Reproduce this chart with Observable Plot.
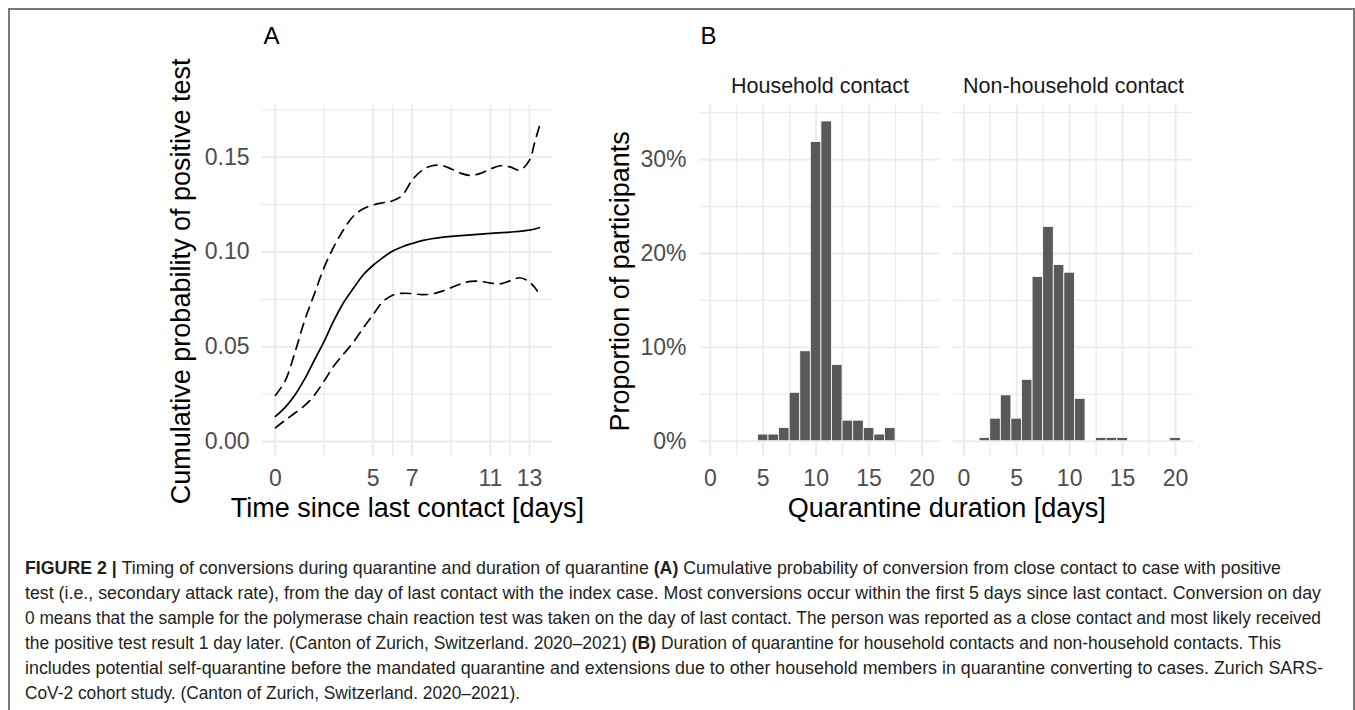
<!DOCTYPE html>
<html><head><meta charset="utf-8">
<script src="https://cdn.jsdelivr.net/npm/d3@7"></script>
<script src="https://cdn.jsdelivr.net/npm/@observablehq/plot@0.6"></script>
<style>
body{margin:0;background:#fff;}
#page{position:relative;width:1355px;height:710px;overflow:hidden;font-family:"Liberation Sans",Arial,sans-serif;background:#fff;}
#frame{position:absolute;left:8px;top:8px;width:1347px;height:720px;border:2px solid #7a7a7a;border-bottom:none;box-sizing:border-box;}
#panelA{position:absolute;left:150px;top:10px;}
#panelB{position:absolute;left:590px;top:10px;}
#caption{position:absolute;left:0;top:540px;}
</style></head>
<body><div id="page"><div id="frame"></div><div id="panelA"></div><div id="panelB"></div><svg id="caption" width="1355" height="170"></svg></div>
<script>
// ---------- Panel A data: cumulative probability of positive test ----------
const estDays  = [0,0.5,1,1.5,2,2.5,3,3.5,4,4.5,5,5.5,6,6.5,7,7.5,8,8.5,9,10,11,12,13,13.5];
const estProb  = [0.0132,0.018,0.0245,0.033,0.043,0.053,0.064,0.0735,0.081,0.088,0.093,0.097,0.1005,0.1028,0.1045,0.106,0.107,0.1077,0.1082,0.109,0.1098,0.1105,0.1115,0.1128];
const upperDays = [0,0.5,1,1.5,2,2.5,3,3.5,4,4.5,5,5.5,6,6.5,7,7.5,8,8.5,9,9.5,10,10.5,11,11.5,12,12.5,13,13.25,13.5];
const upperProb = [0.0243,0.032,0.047,0.064,0.078,0.092,0.103,0.112,0.119,0.1228,0.1248,0.126,0.127,0.130,0.138,0.143,0.1455,0.1457,0.1438,0.1415,0.1404,0.1415,0.1438,0.1455,0.1449,0.1432,0.1485,0.1572,0.1663];
const lowerDays = [0,0.5,1,1.5,2,2.5,3,3.5,4,4.5,5,5.5,6,6.5,7,7.5,8,8.5,9,9.5,10,10.5,11,11.5,12,12.5,13,13.4];
const lowerProb = [0.0072,0.0112,0.015,0.019,0.0245,0.032,0.040,0.0463,0.0525,0.060,0.067,0.0738,0.0772,0.0782,0.078,0.0775,0.0778,0.0792,0.0812,0.0832,0.0845,0.0845,0.0836,0.0832,0.0848,0.0864,0.0841,0.0794];
const aTicksX = [0,5,7,11,13];
const aMinorX = [2.5,6,9,12];
const aTicksY = [0,0.05,0.10,0.15];
const aMinorY = [0.025,0.075,0.125,0.175];

// ---------- Panel B data: quarantine duration histograms (% of participants) ----------
const facets = ["Household contact","Non-household contact"];
const householdDays = [5,6,7,8,9,10,11,12,13,14,15,16,17];
const householdPct  = [0.71,0.71,1.41,5.16,9.58,31.87,34.06,8.13,2.19,2.19,1.41,0.71,1.41];
const nonHouseholdDays = [2,3,4,5,6,7,8,9,10,11,13,14,15,20];
const nonHouseholdPct  = [0.35,2.4,4.88,2.4,6.54,17.49,22.83,18.76,17.95,4.52,0.35,0.35,0.35,0.35];
const bTicksX = [0,5,10,15,20];
const bMinorX = [2.5,7.5,12.5,17.5];
const bTicksY = [0,10,20,30];
const bMinorY = [5,15,25,35];

// ---------- Caption ----------
const captionLines = [
  [["FIGURE 2 | ",1],["Timing of conversions during quarantine and duration of quarantine ",0],["(A)",1],[" Cumulative probability of conversion from close contact to case with positive",0]],
  [["test (i.e., secondary attack rate), from the day of last contact with the index case. Most conversions occur within the first 5 days since last contact. Conversion on day",0]],
  [["0 means that the sample for the polymerase chain reaction test was taken on the day of last contact. The person was reported as a close contact and most likely received",0]],
  [["the positive test result 1 day later. (Canton of Zurich, Switzerland. 2020\u20132021) ",0],["(B)",1],[" Duration of quarantine for household contacts and non-household contacts. This",0]],
  [["includes potential self-quarantine before the mandated quarantine and extensions due to other household members in quarantine converting to cases. Zurich SARS-",0]],
  [["CoV-2 cohort study. (Canton of Zurich, Switzerland. 2020\u20132021).",0]]
];

const FONT = "'Liberation Sans', Arial, Helvetica, sans-serif";
const GRID = "#ebebeb";
const zip = (xs, ys) => xs.map((x, i) => ({x, y: ys[i]}));

// ---------- Panel A ----------
const plotA = Plot.plot({
  width: 410, height: 530,
  marginLeft: 111.7, marginRight: 8, marginTop: 95, marginBottom: 83.3,
  style: {fontFamily: FONT, fontSize: "23px", background: "transparent", overflow: "visible"},
  x: {domain: [-0.675, 14.175]},
  y: {domain: [-0.0083, 0.1773]},
  marks: [
    Plot.ruleX(aMinorX, {stroke: GRID, strokeWidth: 1.3}),
    Plot.ruleY(aMinorY, {stroke: GRID, strokeWidth: 1.3}),
    Plot.ruleX(aTicksX, {stroke: GRID, strokeWidth: 1.9}),
    Plot.ruleY(aTicksY, {stroke: GRID, strokeWidth: 1.9}),
    Plot.axisX({ticks: aTicksX, tickFormat: d => String(d), tickSize: 0, tickPadding: 12.8, label: null, color: "#4d4d4d"}),
    Plot.axisY({ticks: aTicksY, tickFormat: d3.format(".2f"), tickSize: 0, tickPadding: 12.7, label: null, color: "#4d4d4d"}),
    Plot.line(zip(upperDays, upperProb), {x: "x", y: "y", stroke: "#000", strokeWidth: 1.7, strokeDasharray: "10,7", curve: "catmull-rom"}),
    Plot.line(zip(lowerDays, lowerProb), {x: "x", y: "y", stroke: "#000", strokeWidth: 1.7, strokeDasharray: "10,7", curve: "catmull-rom"}),
    Plot.line(zip(estDays, estProb), {x: "x", y: "y", stroke: "#000", strokeWidth: 1.7, curve: "catmull-rom"}),
    Plot.text(["Cumulative probability of positive test"], {frameAnchor: "left", rotate: -90, dx: -80.7, fontSize: 27, fill: "#000", lineAnchor: "middle", textAnchor: "middle"}),
    Plot.text(["Time since last contact [days]"], {frameAnchor: "bottom", dy: 50.7, fontSize: 27, fill: "#000", lineAnchor: "middle"}),
    Plot.text(["A"], {frameAnchor: "top-left", dx: 9.3, dy: -62, fontSize: 24, fill: "#000", lineAnchor: "bottom", textAnchor: "middle"})
  ]
});
document.getElementById("panelA").appendChild(plotA);

// ---------- Panel B ----------
const bars = [
  ...householdDays.map((d, i) => ({group: facets[0], day: d, pct: householdPct[i]})),
  ...nonHouseholdDays.map((d, i) => ({group: facets[1], day: d, pct: nonHouseholdPct[i]}))
];
const plotB = Plot.plot({
  width: 615, height: 530,
  marginLeft: 109.5, marginRight: 12, marginTop: 95, marginBottom: 83.3,
  style: {fontFamily: FONT, fontSize: "23px", background: "transparent", overflow: "visible"},
  fx: {domain: facets, paddingInner: 0.0533, paddingOuter: 0, round: false, axis: null, label: null},
  x: {domain: [-0.97, 21.7]},
  y: {domain: [-1.7, 35.76]},
  marks: [
    Plot.ruleX(bMinorX, {stroke: GRID, strokeWidth: 1.3}),
    Plot.ruleY(bMinorY, {stroke: GRID, strokeWidth: 1.3}),
    Plot.ruleX(bTicksX, {stroke: GRID, strokeWidth: 1.9}),
    Plot.ruleY(bTicksY, {stroke: GRID, strokeWidth: 1.9}),
    Plot.rect(bars, {fx: "group", x1: d => d.day - 0.5, x2: d => d.day + 0.5, y1: d => 0, y2: "pct", fill: "#595959", stroke: "#fff", strokeWidth: 0.8}),
    Plot.axisX({ticks: bTicksX, tickFormat: d => String(d), tickSize: 0, tickPadding: 12.8, label: null, color: "#4d4d4d"}),
    Plot.axisY({ticks: bTicksY, tickFormat: d => d + "%", tickSize: 0, tickPadding: 13.5, label: null, color: "#4d4d4d"}),
    Plot.text(facets, {fx: d => d, text: d => d, frameAnchor: "top", dy: -19.6, fontSize: 21.5, fill: "#1a1a1a", lineAnchor: "middle"}),
    Plot.text([facets[0]], {fx: d => d, text: () => "Proportion of participants", frameAnchor: "left", rotate: -90, dx: -79.5, fontSize: 27, fill: "#000", lineAnchor: "middle", textAnchor: "middle"}),
    Plot.text([facets[0]], {fx: d => d, text: () => "Quarantine duration [days]", frameAnchor: "bottom", dx: 126.75, dy: 50.7, fontSize: 27, fill: "#000", lineAnchor: "middle"}),
    Plot.text([facets[0]], {fx: d => d, text: () => "B", frameAnchor: "top-left", dx: 8.5, dy: -62, fontSize: 24, fill: "#000", lineAnchor: "bottom", textAnchor: "middle"})
  ]
});
document.getElementById("panelB").appendChild(plotB);

// ---------- Caption ----------
const capWidths = [1256, 1296, 1296, 1256, 1298, 495];
const cap = d3.select("#caption");
captionLines.forEach((line, i) => {
  const t = cap.append("text")
    .attr("x", 25).attr("y", 34 + i * 25)
    .attr("textLength", capWidths[i]).attr("lengthAdjust", "spacingAndGlyphs")
    .style("font-family", FONT).style("font-size", "17.5px").style("fill", "#231f20").style("white-space", "pre");
  line.forEach(([s, b]) => t.append("tspan").text(s).style("font-weight", b ? "bold" : "normal"));
});
</script>
</body></html>
